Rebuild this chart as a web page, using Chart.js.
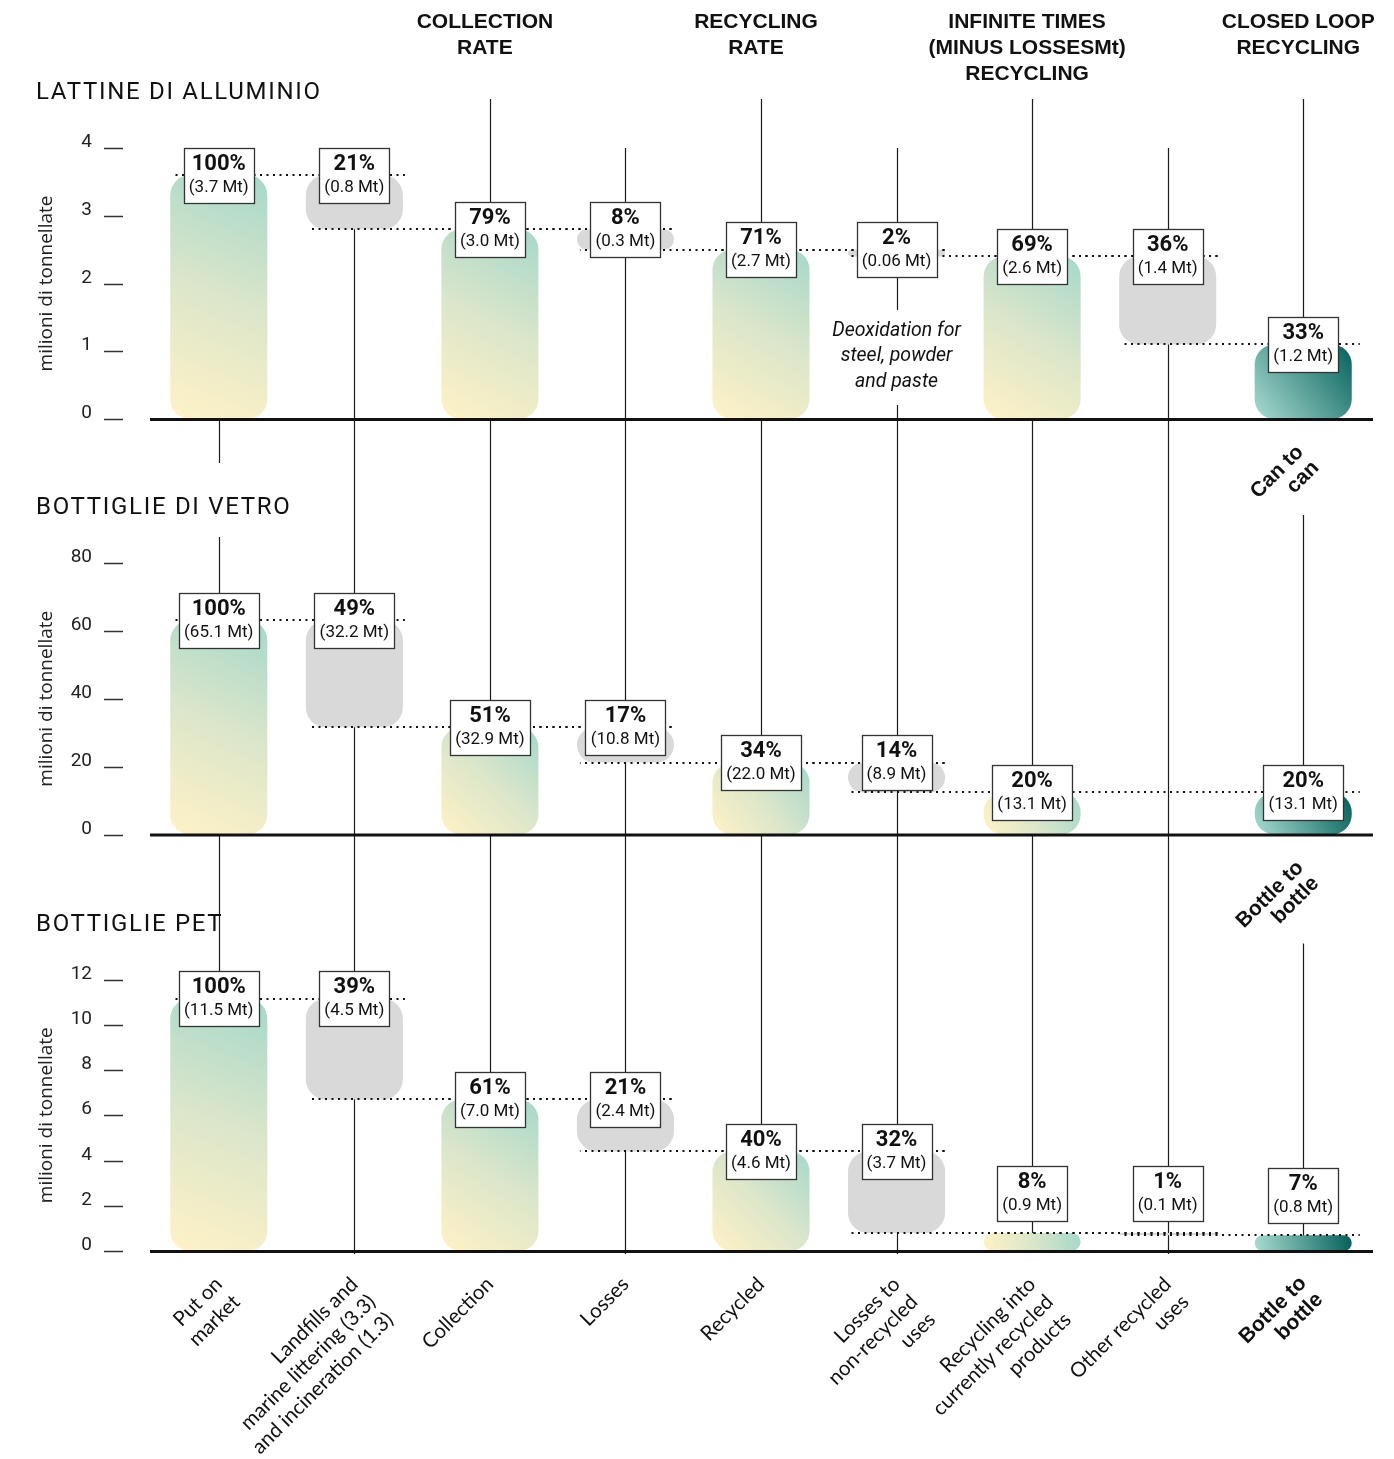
<!DOCTYPE html>
<html lang="it">
<head>
<meta charset="utf-8">
<title>Riciclo imballaggi</title>
<script src="https://cdn.jsdelivr.net/npm/chart.js@4.4.1/dist/chart.umd.min.js"></script>
<style>
  html, body { margin: 0; padding: 0; background: #fff; }
  canvas { display: block; }
</style>
</head>
<body>
<canvas id="chart" width="1394" height="1459"></canvas>
<script>
// ---------------- DATA ----------------
const categories = [
  ['Put on', 'market'],
  ['Landfills and', 'marine littering (3.3)', 'and incineration (1.3)'],
  'Collection',
  'Losses',
  'Recycled',
  ['Losses to', 'non-recycled', 'uses'],
  ['Recycling into', 'currently recycled', 'products'],
  ['Other recycled', 'uses'],
  ['Bottle to', 'bottle']
];
const stageHeaders = [null, null, ['COLLECTION', 'RATE'], null, ['RECYCLING', 'RATE'], null,
  ['INFINITE TIMES', '(MINUS LOSSESMt)', 'RECYCLING'], null, ['CLOSED LOOP', 'RECYCLING']];

// Aluminium cans (Mt) - floating bar ends
const aluLow  = [0,   2.8, 0,   2.5, 0,   2.4, 0,   1.1, 0];
const aluHigh = [3.6, 3.6, 2.8, 2.8, 2.5, 2.5, 2.4, 2.4, 1.1];
const aluPct  = ['100%', '21%', '79%', '8%', '71%', '2%', '69%', '36%', '33%'];
const aluMt   = ['(3.7 Mt)', '(0.8 Mt)', '(3.0 Mt)', '(0.3 Mt)', '(2.7 Mt)', '(0.06 Mt)', '(2.6 Mt)', '(1.4 Mt)', '(1.2 Mt)'];
const aluTicks = [0, 1, 2, 3, 4];

// Glass bottles (Mt)
const glassLow  = [0,    31.6, 0,    21.2, 0,    12.4, 0,    null, 0];
const glassHigh = [63.1, 63.1, 31.6, 31.6, 21.2, 21.2, 12.4, null, 12.4];
const glassPct  = ['100%', '49%', '51%', '17%', '34%', '14%', '20%', null, '20%'];
const glassMt   = ['(65.1 Mt)', '(32.2 Mt)', '(32.9 Mt)', '(10.8 Mt)', '(22.0 Mt)', '(8.9 Mt)', '(13.1 Mt)', null, '(13.1 Mt)'];
const glassTicks = [0, 20, 40, 60, 80];

// PET bottles (Mt)
const petLow  = [0,     6.7,   0,   4.4, 0,   0.8, 0,   0.7, 0];
const petHigh = [11.15, 11.15, 6.7, 6.7, 4.4, 4.4, 0.8, 0.8, 0.7];
const petPct  = ['100%', '39%', '61%', '21%', '40%', '32%', '8%', '1%', '7%'];
const petMt   = ['(11.5 Mt)', '(4.5 Mt)', '(7.0 Mt)', '(2.4 Mt)', '(4.6 Mt)', '(3.7 Mt)', '(0.9 Mt)', '(0.1 Mt)', '(0.8 Mt)'];
const petTicks = [0, 2, 4, 6, 8, 10, 12];

const panelTitles = ['LATTINE DI ALLUMINIO', 'BOTTIGLIE DI VETRO', 'BOTTIGLIE PET'];
const loopLabels = [['Can to', 'can'], ['Bottle to', 'bottle'], null];
const axisTitle = 'milioni di tonnellate';
const deoxNote = ['Deoxidation for', 'steel, powder', 'and paste'];

// ---------------- STYLE ----------------
const barKind = ['main', 'loss', 'main', 'loss', 'main', 'loss', 'main', 'loss', 'loop'];
const BAR_PCT = 0.716;
const FONT_PCT = 'bold 22px Roboto, "Liberation Sans", sans-serif';
const FONT_MT = '17px Roboto, "Liberation Sans", sans-serif';

const panels = [
  { axis: 'yA', low: aluLow, high: aluHigh, pct: aluPct, mt: aluMt, ticks: aluTicks },
  { axis: 'yG', low: glassLow, high: glassHigh, pct: glassPct, mt: glassMt, ticks: glassTicks },
  { axis: 'yP', low: petLow, high: petHigh, pct: petPct, mt: petMt, ticks: petTicks }
];

function barFill(c) {
  const kind = barKind[c.dataIndex];
  if (kind === 'loss') return '#d9d9d9';
  const chart = c.chart, raw = c.raw;
  const xs = chart.scales.x, ys = chart.scales[c.dataset.yAxisID];
  if (!chart.chartArea || !raw || !xs || !ys) return kind === 'loop' ? '#3f8a85' : '#dce7cb';
  const cx = xs.getPixelForValue(c.dataIndex);
  const hw = (xs.getPixelForValue(1) - xs.getPixelForValue(0)) * BAR_PCT / 2;
  const yb = ys.getPixelForValue(raw[0]), yt = ys.getPixelForValue(raw[1]);
  const g = chart.ctx.createLinearGradient(cx - hw, yb, cx + hw, yt);
  if (kind === 'loop') {
    g.addColorStop(0, '#aadcd0');
    g.addColorStop(1, '#05605c');
  } else {
    g.addColorStop(0, '#fff2c6');
    g.addColorStop(0.5, '#dce6ca');
    g.addColorStop(1, '#a5d8ca');
  }
  return g;
}

function boxRect(chart, p, i) {
  if (p.pct[i] == null) return null;
  const ctx = chart.ctx, xs = chart.scales.x, ys = chart.scales[p.axis];
  ctx.save();
  ctx.font = FONT_PCT; const w1 = ctx.measureText(p.pct[i]).width;
  ctx.font = FONT_MT; const w2 = ctx.measureText(p.mt[i]).width;
  ctx.restore();
  const w = Math.round(Math.max(w1, w2) + 10), h = 55;
  const cx = xs.getPixelForValue(i);
  const top = ys.getPixelForValue(p.high[i]);
  const zero = ys.getPixelForValue(0);
  let cy = top;
  if (cy + h / 2 > zero) cy = top - 12 - h / 2;
  return { x: Math.round(cx - w / 2) + 0.5, y: Math.round(cy - h / 2) + 0.5, w, h, cx, cy };
}

function dotted(ctx, y, x0, x1) {
  const period = 6.5;
  ctx.save();
  ctx.strokeStyle = '#111';
  ctx.lineWidth = 2;
  ctx.setLineDash([2, period - 2]);
  ctx.lineDashOffset = x0 % period;
  ctx.beginPath();
  ctx.moveTo(x0, Math.round(y));
  ctx.lineTo(x1, Math.round(y));
  ctx.stroke();
  ctx.restore();
}

const decor = {
  id: 'decor',
  beforeDatasetsDraw(chart) {
    const ctx = chart.ctx, xs = chart.scales.x;
    const A = chart.scales.yA, G = chart.scales.yG, P = chart.scales.yP;
    const zA = A.getPixelForValue(0), zG = G.getPixelForValue(0), zP = P.getPixelForValue(0);
    const headTop = A.top - 49;
    const pBox0 = boxRect(chart, panels[2], 0);
    const segs = [
      [[A.top, zA + 44], [G.top - 26, pBox0.y]],
      [[A.top, zP + 3]],
      [[headTop, zP]],
      [[A.top, zP + 3]],
      [[headTop, zP]],
      [[A.top, zP + 3]],
      [[headTop, zP]],
      [[A.top, zP + 3]],
      [[headTop, zA - 4], [G.top - 48, zG - 4], [P.top - 36, zP - 4]]
    ];
    ctx.save();
    ctx.strokeStyle = '#1a1a1a';
    ctx.lineWidth = 1.2;
    for (let i = 0; i < 9; i++) {
      const x = Math.round(xs.getPixelForValue(i)) + 0.5;
      for (const [a, b] of segs[i]) {
        ctx.beginPath(); ctx.moveTo(x, a); ctx.lineTo(x, b); ctx.stroke();
      }
    }
    ctx.restore();
  },
  afterDatasetsDraw(chart) {
    const ctx = chart.ctx, xs = chart.scales.x, area = chart.chartArea;
    const half = (xs.getPixelForValue(1) - xs.getPixelForValue(0)) * BAR_PCT / 2;
    const L = i => xs.getPixelForValue(i) - half + 3;
    const R = i => xs.getPixelForValue(i) + half + 2;

    panels.forEach((p, pi) => {
      const ys = chart.scales[p.axis];
      const zero = ys.getPixelForValue(0);
      // baseline
      ctx.save();
      ctx.strokeStyle = '#111';
      ctx.lineWidth = 3;
      ctx.beginPath();
      ctx.moveTo(area.left - 1, zero + 0.5);
      ctx.lineTo(area.right + 2, zero + 0.5);
      ctx.stroke();
      ctx.restore();

      // dotted connectors
      const grays = [];
      for (let i = 0; i < 9; i++) if (barKind[i] === 'loss' && p.low[i] != null) grays.push(i);
      grays.forEach((i, k) => {
        dotted(ctx, ys.getPixelForValue(p.high[i]), L(i - 1), R(i));
        const j = grays[k + 1];
        const xEnd = j !== undefined ? R(j) : R(8) + 6;
        dotted(ctx, ys.getPixelForValue(p.low[i]), L(i), xEnd);
      });

      // value boxes
      for (let i = 0; i < 9; i++) {
        const b = boxRect(chart, p, i);
        if (!b) continue;
        ctx.save();
        ctx.fillStyle = '#fff';
        ctx.fillRect(b.x, b.y, b.w, b.h);
        ctx.strokeStyle = '#333';
        ctx.lineWidth = 1.3;
        ctx.strokeRect(b.x, b.y, b.w, b.h);
        ctx.fillStyle = '#111';
        ctx.textAlign = 'center';
        ctx.textBaseline = 'middle';
        ctx.font = FONT_PCT;
        ctx.fillText(p.pct[i], b.cx, b.y + 16);
        ctx.font = FONT_MT;
        ctx.fillText(p.mt[i], b.cx, b.y + 39);
        ctx.restore();
      }

      // y ticks
      ctx.save();
      ctx.fillStyle = '#222';
      ctx.strokeStyle = '#333';
      ctx.lineWidth = 1.5;
      ctx.font = '19px Roboto, "Liberation Sans", sans-serif';
      ctx.textAlign = 'right';
      ctx.textBaseline = 'alphabetic';
      p.ticks.forEach(t => {
        const y = ys.getPixelForValue(t);
        ctx.beginPath(); ctx.moveTo(104, Math.round(y) + 0.5); ctx.lineTo(123, Math.round(y) + 0.5); ctx.stroke();
        ctx.fillText(String(t), 92, y - 1);
      });
      // axis title
      ctx.translate(47, (ys.top + ys.bottom) / 2);
      ctx.rotate(-Math.PI / 2);
      ctx.textAlign = 'center';
      ctx.textBaseline = 'middle';
      ctx.font = '19px "Open Sans", Roboto, sans-serif';
      ctx.fillText(axisTitle, 0, 0);
      ctx.restore();

      // panel title
      ctx.save();
      ctx.fillStyle = '#111';
      ctx.font = '24px Roboto, "Liberation Sans", sans-serif';
      try { ctx.letterSpacing = '1.7px'; } catch (e) {}
      ctx.textAlign = 'left';
      ctx.textBaseline = 'alphabetic';
      ctx.fillText(panelTitles[pi], 36, ys.top - 49);
      ctx.restore();

      // closed loop label in the gap below the panel
      if (loopLabels[pi]) {
        ctx.save();
        ctx.translate(xs.getPixelForValue(8) - 3, zero + 30);
        ctx.rotate(-Math.PI / 4);
        ctx.fillStyle = '#111';
        ctx.font = 'bold 21px "Liberation Sans", Arial, sans-serif';
        ctx.textAlign = 'right';
        ctx.textBaseline = 'middle';
        loopLabels[pi].forEach((ln, k) => ctx.fillText(ln, 0, k * 22));
        ctx.restore();
      }
    });

    // deoxidation note (aluminium panel, column 6)
    const A = chart.scales.yA;
    const zA = A.getPixelForValue(0);
    const x6 = xs.getPixelForValue(5);
    ctx.save();
    ctx.fillStyle = '#fff';
    ctx.fillRect(x6 - 3, zA - 109, 6, 95);
    ctx.fillStyle = '#111';
    ctx.font = 'italic 19.5px Roboto, "Liberation Sans", sans-serif';
    ctx.textAlign = 'center';
    ctx.textBaseline = 'middle';
    deoxNote.forEach((ln, k) => ctx.fillText(ln, x6, zA - 88 + k * 25.5));
    ctx.restore();

    // stage headers
    ctx.save();
    ctx.fillStyle = '#111';
    ctx.font = 'bold 21px "Liberation Sans", Arial, sans-serif';
    ctx.textAlign = 'center';
    ctx.textBaseline = 'middle';
    stageHeaders.forEach((h, i) => {
      if (!h) return;
      const x = xs.getPixelForValue(i) - 5;
      h.forEach((ln, k) => ctx.fillText(ln, x, A.top - 126 + k * 26));
    });
    ctx.restore();
  }
};

const toBars = (low, high) => low.map((l, i) => (l == null ? null : [l, high[i]]));
const common = {
  grouped: false,
  barPercentage: BAR_PCT,
  categoryPercentage: 1,
  borderRadius: 20,
  borderSkipped: false,
  borderWidth: 0,
  backgroundColor: barFill
};

new Chart(document.getElementById('chart'), {
  type: 'bar',
  data: {
    labels: categories,
    datasets: [
      Object.assign({ label: panelTitles[0], data: toBars(aluLow, aluHigh), yAxisID: 'yA' }, common),
      Object.assign({ label: panelTitles[1], data: toBars(glassLow, glassHigh), yAxisID: 'yG' }, common),
      Object.assign({ label: panelTitles[2], data: toBars(petLow, petHigh), yAxisID: 'yP' }, common)
    ]
  },
  options: {
    responsive: false,
    animation: false,
    devicePixelRatio: 1,
    layout: { padding: { left: 151, right: 23, top: 148, bottom: 0 } },
    plugins: { legend: { display: false }, tooltip: { enabled: false } },
    scales: {
      x: {
        grid: { display: false, drawTicks: false },
        border: { display: false },
        afterFit: s => { s.height = 208; },
        ticks: {
          autoSkip: false,
          minRotation: 45,
          maxRotation: 45,
          padding: 21,
          color: '#111',
          font: c => (c.index === 8
            ? { family: '"Liberation Sans", Arial, sans-serif', size: 21, weight: 'bold', lineHeight: 1.1 }
            : { family: 'Lato, "Open Sans", sans-serif', size: 20.5, lineHeight: 1.22 })
        }
      },
      // left-stacked axes are laid out in reverse definition order: bottom panel first
      yP: { display: false, position: 'left', stack: 'panels', stackWeight: 271.5, min: 0, max: 12 },
      gap2: { display: false, position: 'left', stack: 'panels', stackWeight: 145, min: 0, max: 1 },
      yG: { display: false, position: 'left', stack: 'panels', stackWeight: 271.5, min: 0, max: 80 },
      gap1: { display: false, position: 'left', stack: 'panels', stackWeight: 144, min: 0, max: 1 },
      yA: { display: false, position: 'left', stack: 'panels', stackWeight: 271, min: 0, max: 4 }
    }
  },
  plugins: [decor]
});
</script>
</body>
</html>
